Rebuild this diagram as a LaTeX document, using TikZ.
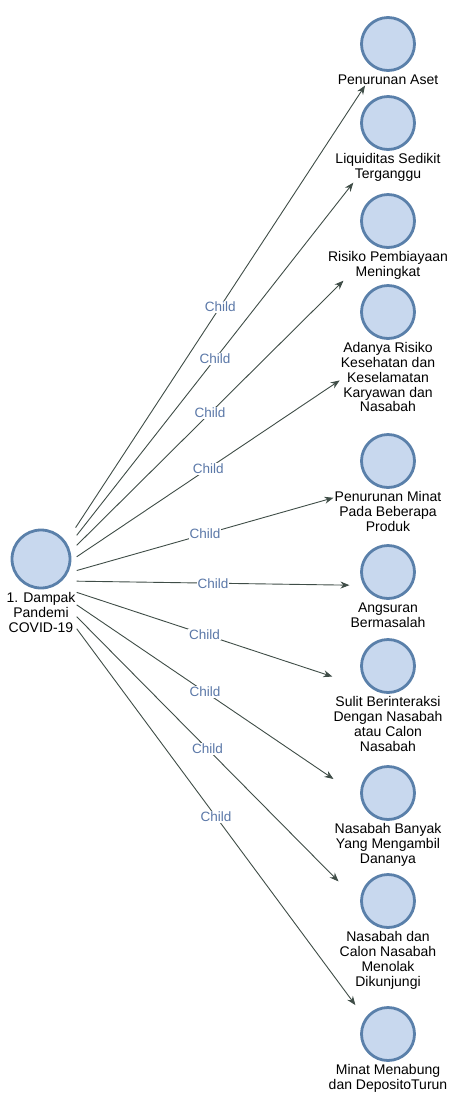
\documentclass[tikz,border=0pt]{standalone}
\usepackage{fontspec}
\setmainfont{Liberation Sans}
\usetikzlibrary{positioning,fit,arrows.meta}
\definecolor{bubblefill}{HTML}{C8D8EE}
\definecolor{bubblerim}{HTML}{5A80AA}
\definecolor{wire}{HTML}{3F4D47}
\definecolor{tagblue}{HTML}{5B78A8}
\tikzset{
  bubble/.style={circle, draw=bubblerim, fill=bubblefill, line width=2.8pt,
    minimum size=53pt, inner sep=0},
  lbl/.style={align=center, inner sep=0, font=\fontsize{14}{14.8}\selectfont},
  wrap/.style={inner sep=0, outer sep=1pt},
  childedge/.style={draw=wire, line width=.9pt, -{Stealth[length=9pt,width=7pt]}},
  childtag/.style={fill=white, text=tagblue, inner sep=1pt, font=\fontsize{13.5}{14}\selectfont}
}
\begin{document}
\begin{tikzpicture}[x=1pt,y=-1pt]
  \useasboundingbox (0,0) rectangle (451,1096);
  % root
  \node [bubble, minimum size=58pt] (c0) at (41,559) {};
  \node [lbl, below=3pt of c0] (t0) {1. Dampak\\Pandemi\\COVID-19};
  \node [wrap, fit=(c0)(t0)] (k0) {};
  % children
  \foreach \y/\s [count=\i] in {
      44/{Penurunan Aset},
      123/{Liquiditas Sedikit\\Terganggu},
      221/{Risiko Pembiayaan\\Meningkat},
      312/{Adanya Risiko\\Kesehatan dan\\Keselamatan\\Karyawan dan\\Nasabah},
      461/{Penurunan Minat\\Pada Beberapa\\Produk},
      572/{Angsuran\\Bermasalah},
      666/{Sulit Berinteraksi\\Dengan Nasabah\\atau Calon\\Nasabah},
      793/{Nasabah Banyak\\Yang Mengambil\\Dananya},
      901/{Nasabah dan\\Calon Nasabah\\Menolak\\Dikunjungi},
      1034/{Minat Menabung\\dan DepositoTurun}} {
    \node [bubble] (c\i) at (388,\y) {};
    \node [lbl, below=2.5pt of c\i] (t\i) {\s};
    \node [wrap, fit=(c\i)(t\i)] (k\i) {};
  }
  \foreach \i in {1,...,10}
    \draw [childedge] (k0) -- node [childtag] {Child} (k\i);
\end{tikzpicture}
\end{document}
